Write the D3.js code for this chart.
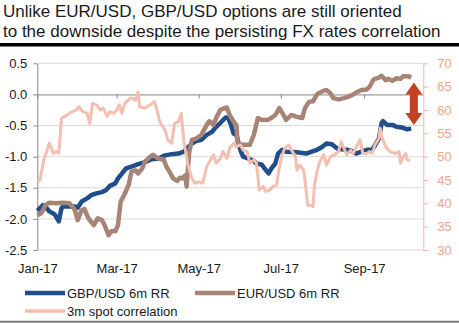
<!DOCTYPE html>
<html>
<head>
<meta charset="utf-8">
<script src="https://cdn.jsdelivr.net/npm/d3@7"></script>
<style>
  body { margin: 0; background: #fff; }
  svg { display: block; font-family: "Liberation Sans", Arial, sans-serif; }
</style>
</head>
<body>
<svg id="chart" width="459" height="323"></svg>
<script>
// GBP/USD 6m risk reversal (left axis)
const gbpDates = ["01-01","01-05","01-08","01-10","01-14","01-17","01-19","01-20","01-25","01-29","01-31",
  "02-03","02-07","02-10","02-14","02-18","02-21","02-24","02-28","03-02","03-05","03-08","03-12","03-17",
  "03-22","03-27","04-01","04-06","04-11","04-16","04-20","04-22","04-26","04-29","05-03","05-07","05-11",
  "05-14","05-17","05-21","05-23","05-25","05-27","05-29","06-01","06-03","06-07","06-11","06-13","06-17",
  "06-19","06-22","06-24","06-27","06-29","07-02","07-05","07-13","07-20","07-24","07-28","08-01","08-04",
  "08-08","08-12","08-15","08-19","08-23","08-26","08-30","09-03","09-07","09-09","09-12","09-14","09-15",
  "09-18","09-22","09-25","09-29","10-03","10-06"];
const gbpValues = [-1.87,-1.78,-1.83,-1.88,-1.93,-2.04,-1.83,-1.80,-1.80,-1.80,-1.82,
  -1.72,-1.67,-1.62,-1.59,-1.57,-1.54,-1.47,-1.43,-1.35,-1.27,-1.19,-1.16,-1.12,
  -1.09,-1.04,-1.03,-0.98,-0.96,-0.95,-0.92,-0.87,-0.79,-0.75,-0.73,-0.65,-0.60,
  -0.52,-0.46,-0.37,-0.38,-0.49,-0.63,-0.65,-0.89,-1.00,-1.03,-1.07,-1.11,-1.13,
  -1.19,-1.27,-1.19,-1.11,-0.95,-0.89,-0.92,-0.93,-0.95,-0.92,-0.89,-0.84,-0.79,
  -0.80,-0.87,-0.88,-0.89,-0.91,-0.95,-0.92,-0.89,-0.89,-0.82,-0.71,-0.46,-0.43,
  -0.49,-0.49,-0.52,-0.53,-0.56,-0.55];

// EUR/USD 6m risk reversal (left axis)
const eurDates = ["01-01","01-04","01-07","01-10","01-15","01-20","01-25","01-29","01-31","02-03","02-05",
  "02-08","02-12","02-15","02-18","02-20","02-23","02-25","02-28","03-02","03-04","03-07","03-10","03-12",
  "03-15","03-17","03-20","03-22","03-26","03-28","04-01","04-05","04-07","04-10","04-12","04-15","04-17",
  "04-19","04-21","04-22","04-24","04-26","04-29","05-03","05-07","05-09","05-12","05-14","05-17","05-19",
  "05-22","05-24","05-27","05-29","05-30","06-02","06-08","06-11","06-14","06-17","06-21","06-24","06-27",
  "06-30","07-03","07-05","07-09","07-13","07-17","07-19","07-22","07-25","07-28","07-29","08-02","08-04",
  "08-07","08-09","08-13","08-17","08-20","08-24","08-27","08-30","09-03","09-05","09-08","09-12","09-14",
  "09-17","09-19","09-22","09-25","09-28","09-30","10-04","10-06"];
const eurValues = [-1.94,-1.91,-1.78,-1.74,-1.75,-1.74,-1.75,-1.86,-2.02,-1.86,-1.84,
  -1.99,-2.10,-1.99,-2.02,-2.10,-2.26,-2.20,-2.20,-2.10,-1.72,-1.60,-1.45,-1.24,
  -1.22,-1.27,-1.19,-1.08,-1.00,-0.97,-1.03,-1.05,-1.16,-1.27,-1.35,-1.39,-1.34,
  -1.35,-1.30,-1.48,-0.92,-0.73,-0.71,-0.65,-0.49,-0.43,-0.49,-0.38,-0.25,-0.23,
  -0.21,-0.33,-0.44,-0.49,-0.78,-0.81,-0.81,-0.65,-0.38,-0.41,-0.41,-0.38,-0.33,
  -0.22,-0.33,-0.41,-0.33,-0.36,-0.38,-0.22,-0.12,-0.11,0.00,0.02,0.06,0.07,
  0.02,-0.06,-0.08,-0.06,-0.04,0.00,0.04,0.07,0.08,0.12,0.24,0.27,0.30,
  0.23,0.25,0.22,0.26,0.25,0.29,0.29,0.27];

// 3m spot correlation (right axis)
const corrDates = ["01-01","01-03","01-06","01-08","01-10","01-13","01-15","01-17","01-19","01-23","01-26",
  "01-30","02-01","02-04","02-07","02-09","02-11","02-14","02-17","02-19","02-22","02-24","02-27","03-01",
  "03-03","03-05","03-07","03-11","03-13","03-15","03-17","03-18","03-22","03-26","03-29","03-31","04-02",
  "04-06","04-08","04-11","04-13","04-16","04-18","04-20","04-23","04-26","04-28","05-01","05-04","05-07",
  "05-09","05-12","05-14","05-17","05-19","05-22","05-24","05-27","05-29","06-01","06-03","06-06","06-08",
  "06-11","06-13","06-15","06-18","06-20","06-23","06-25","06-28","06-29","07-02","07-04","07-07","07-09",
  "07-12","07-13","07-15","07-18","07-19","07-21","07-24","07-25","07-26","07-28","07-30","08-02","08-04",
  "08-07","08-10","08-13","08-15","08-17","08-19","08-22","08-24","08-27","08-29","08-31","09-03","09-05",
  "09-07","09-09","09-12","09-13","09-14","09-17","09-20","09-24","09-27","09-28","09-30","10-02","10-03",
  "10-05"];
const corrValues = [44.6,45.0,49.6,51.1,52.9,50.7,51.1,50.7,58.2,58.9,59.5,
  60.0,60.7,59.6,59.3,57.1,61.4,61.1,60.0,60.4,58.6,59.6,59.3,60.0,
  61.1,59.3,61.4,62.5,62.5,62.1,63.8,60.7,60.4,61.1,61.8,60.0,57.5,
  55.7,53.6,52.9,57.1,57.5,59.3,53.2,48.2,45.4,44.3,44.6,44.3,47.9,
  48.9,50.4,48.6,49.6,51.1,49.6,51.8,52.9,52.1,52.5,51.4,51.1,48.6,
  49.3,48.6,42.9,43.6,42.5,42.9,43.6,43.9,46.1,50.4,51.8,52.5,51.4,
  50.0,47.1,48.2,47.1,45.0,39.6,39.6,39.3,43.9,46.8,48.9,50.4,48.2,
  50.0,50.4,51.1,53.2,51.8,50.4,51.4,50.7,52.5,53.6,50.7,50.7,51.1,
  50.7,52.5,53.9,56.1,54.3,52.1,51.1,50.7,51.1,48.6,50.0,50.7,49.3,
  49.1];

const leftTicks = [-2.5, -2.0, -1.5, -1.0, -0.5, 0.0, 0.5];
const rightTicks = [30, 35, 40, 45, 50, 55, 60, 65, 70];
const titleLines = ["Unlike EUR/USD, GBP/USD options are still oriented",
                    "to the downside despite the persisting FX rates correlation"];
const legendNames = ["GBP/USD 6m RR", "EUR/USD 6m RR", "3m spot correlation"];
// gap between the two risk reversals at the end of the series
const gapTop = 0.19, gapBottom = -0.49, gapDate = "10-08";

const colors = { gbp: "#1f4e8a", eur: "#a88476", corr: "#f4bfb1", axisR: "#f4b6a3", labelR: "#f3a388", arrow: "#c4411f" };

const parse = d3.timeParse("%Y-%m-%d");
const toSeries = (dates, values) => dates.map((d, i) => ({ date: parse("2017-" + d), value: values[i] }));

const svg = d3.select("#chart");
const plot = { left: 37.3, right: 423.3, top: 63.3, bottom: 250 };

const x = d3.scaleTime()
  .domain([parse("2017-01-01"), parse("2017-10-15")])
  .range([plot.left, plot.right]);
const yL = d3.scaleLinear().domain([-2.5, 0.5]).range([plot.bottom, plot.top]);
const yR = d3.scaleLinear().domain([30, 70]).range([plot.bottom, plot.top]);

// title + rule
svg.selectAll(".title").data(titleLines).enter().append("text")
  .attr("class", "title")
  .attr("x", 3)
  .attr("y", (d, i) => 16.5 + i * 20)
  .attr("font-size", 17)
  .attr("fill", "#1a1a1a")
  .text(d => d);
svg.append("rect").attr("x", 0).attr("y", 43).attr("width", 459).attr("height", 3.5).attr("fill", "#000");

// gridlines
svg.append("g").selectAll("line").data(leftTicks.filter(v => v !== 0)).enter().append("line")
  .attr("x1", plot.left).attr("x2", plot.right)
  .attr("y1", d => yL(d)).attr("y2", d => yL(d))
  .attr("stroke", "#d9d9d9").attr("stroke-width", 1);

// category axis crossing at 0
const monthTicks = d3.timeMonth.every(2);
const zeroAxis = svg.append("g")
  .attr("transform", `translate(0,${yL(0)})`)
  .call(d3.axisBottom(x).ticks(monthTicks).tickSize(4).tickSizeOuter(0).tickFormat(""));
zeroAxis.selectAll("path, line").attr("stroke", "#868686");

// month labels at the bottom
const labelAxis = svg.append("g")
  .attr("transform", `translate(0,${plot.bottom})`)
  .call(d3.axisBottom(x).ticks(monthTicks).tickSize(0).tickPadding(14).tickFormat(d3.timeFormat("%b-%y")));
labelAxis.select(".domain").remove();
labelAxis.selectAll("text").attr("font-size", 13).attr("fill", "#1a1a1a").attr("font-family", null);

// left axis
const leftAxis = svg.append("g")
  .attr("transform", `translate(${plot.left},0)`)
  .call(d3.axisLeft(yL).tickValues(leftTicks).tickSize(4).tickPadding(6).tickSizeOuter(0)
    .tickFormat(d => d.toFixed(1)));
leftAxis.selectAll("path, line").attr("stroke", "#868686");
leftAxis.selectAll("text").attr("font-size", 13).attr("fill", "#1a1a1a").attr("font-family", null);

// right axis
const rightAxis = svg.append("g")
  .attr("transform", `translate(${plot.right},0)`)
  .call(d3.axisRight(yR).tickValues(rightTicks).tickSize(5).tickPadding(9).tickSizeOuter(0));
rightAxis.selectAll("path, line").attr("stroke", colors.axisR);
rightAxis.selectAll("text").attr("font-size", 13).attr("fill", colors.labelR).attr("font-family", null);

// series
const lineL = d3.line().x(d => x(d.date)).y(d => yL(d.value));
const lineR = d3.line().x(d => x(d.date)).y(d => yR(d.value));

svg.append("path").datum(toSeries(gbpDates, gbpValues))
  .attr("d", lineL).attr("fill", "none").attr("stroke", colors.gbp)
  .attr("stroke-width", 4.5).attr("stroke-linejoin", "round");
svg.append("path").datum(toSeries(eurDates, eurValues))
  .attr("d", lineL).attr("fill", "none").attr("stroke", colors.eur)
  .attr("stroke-width", 4.5).attr("stroke-linejoin", "round");
svg.append("path").datum(toSeries(corrDates, corrValues))
  .attr("d", lineR).attr("fill", "none").attr("stroke", colors.corr)
  .attr("stroke-width", 3).attr("stroke-linejoin", "round");

// double-headed arrow showing the gap
const ax = x(parse("2017-" + gapDate)), at = yL(gapTop), ab = yL(gapBottom);
const hw = 8.5, hh = 12, sw = 4;
svg.append("path")
  .attr("d", `M${ax},${at} L${ax + hw},${at + hh} L${ax + sw},${at + hh} L${ax + sw},${ab - hh}
    L${ax + hw},${ab - hh} L${ax},${ab} L${ax - hw},${ab - hh} L${ax - sw},${ab - hh}
    L${ax - sw},${at + hh} L${ax - hw},${at + hh} Z`)
  .attr("fill", colors.arrow);

// legend
const legend = [
  { name: legendNames[0], color: colors.gbp, w: 4.5, x: 25, y: 293 },
  { name: legendNames[1], color: colors.eur, w: 4.5, x: 195, y: 293 },
  { name: legendNames[2], color: colors.corr, w: 3.5, x: 25, y: 311 }
];
const lg = svg.append("g").selectAll("g").data(legend).enter().append("g");
lg.append("line")
  .attr("x1", d => d.x).attr("x2", d => d.x + 40)
  .attr("y1", d => d.y).attr("y2", d => d.y)
  .attr("stroke", d => d.color).attr("stroke-width", d => d.w);
lg.append("text")
  .attr("x", d => d.x + 42).attr("y", d => d.y + 5)
  .attr("font-size", 13).attr("fill", "#1a1a1a")
  .text(d => d.name);

// bottom rule
svg.append("line").attr("x1", 0).attr("x2", 459).attr("y1", 321.8).attr("y2", 321.8)
  .attr("stroke", "#7a7a7a").attr("stroke-width", 2);
</script>
</body>
</html>
